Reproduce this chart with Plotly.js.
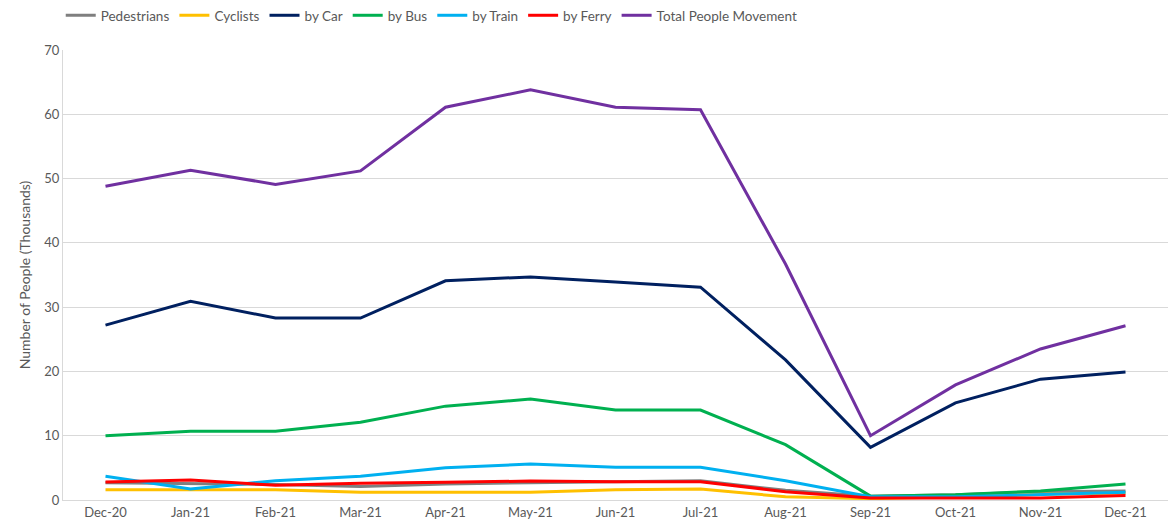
<!DOCTYPE html>
<html>
<head>
<meta charset="utf-8">
<script src="https://cdn.plot.ly/plotly-3.0.1.min.js"></script>
<style>
  html, body { margin: 0; padding: 0; background: #fff; }
  #chart { width: 1168px; height: 527px; }
</style>
</head>
<body>
<div id="chart"></div>
<script>
var months = ['Dec-20', 'Jan-21', 'Feb-21', 'Mar-21', 'Apr-21', 'May-21', 'Jun-21',
              'Jul-21', 'Aug-21', 'Sep-21', 'Oct-21', 'Nov-21', 'Dec-21'];

var pedestrians = [2.7, 2.6, 2.4, 2.1, 2.5, 2.7, 2.9, 3.0, 1.5, 0.6, 0.8, 1.3, 1.4];
var cyclists    = [1.6, 1.6, 1.6, 1.2, 1.2, 1.2, 1.6, 1.7, 0.5, 0.2, 0.5, 0.9, 1.1];
var byCar       = [27.2, 30.9, 28.3, 28.3, 34.1, 34.7, 33.9, 33.1, 21.8, 8.2, 15.1, 18.8, 19.9];
var byBus       = [10.0, 10.7, 10.7, 12.1, 14.6, 15.7, 14.0, 14.0, 8.6, 0.6, 0.8, 1.4, 2.5];
var byTrain     = [3.7, 1.7, 3.0, 3.7, 5.0, 5.6, 5.1, 5.1, 3.0, 0.5, 0.5, 0.8, 1.2];
var byFerry     = [2.8, 3.1, 2.3, 2.6, 2.75, 2.95, 2.85, 2.85, 1.3, 0.3, 0.3, 0.3, 0.7];
var total       = [48.8, 51.3, 49.1, 51.2, 61.1, 63.8, 61.1, 60.7, 36.7, 10.0, 17.9, 23.5, 27.1];

var seriesNames  = ['Pedestrians', 'Cyclists', 'by Car', 'by Bus', 'by Train', 'by Ferry', 'Total People Movement'];
var seriesValues = [pedestrians, cyclists, byCar, byBus, byTrain, byFerry, total];
var colors = ['#7f7f7f', '#ffc000', '#002060', '#00b050', '#00b0f0', '#ff0000', '#7030a0'];

var traces = seriesNames.map(function (name, i) {
    return {
        type: 'scatter',
        mode: 'lines',
        name: name,
        x: months,
        y: seriesValues[i],
        line: { color: colors[i], width: 3 }
    };
});

var layout = {
    width: 1168,
    height: 527,
    margin: { l: 63, r: 0, t: 50, b: 27 },
    paper_bgcolor: '#ffffff',
    plot_bgcolor: '#ffffff',
    font: { family: 'Lato, "Open Sans", sans-serif', size: 13, color: '#595959' },
    showlegend: true,
    legend: {
        orientation: 'h',
        xref: 'container',
        x: 0.052,
        xanchor: 'left',
        yref: 'container',
        y: 1,
        yanchor: 'top',
        itemwidth: 30,
        font: { size: 13.5, color: '#595959' }
    },
    xaxis: {
        type: 'category',
        range: [-0.5, 12.5],
        showgrid: false,
        showline: true,
        linecolor: '#d9d9d9',
        linewidth: 1,
        ticks: '',
        tickfont: { size: 13, color: '#595959' },
        fixedrange: true
    },
    yaxis: {
        range: [0, 70],
        dtick: 10,
        showgrid: true,
        gridcolor: '#d9d9d9',
        gridwidth: 1,
        zeroline: false,
        showline: true,
        linecolor: '#d9d9d9',
        ticks: '',
        tickfont: { size: 13, color: '#595959' },
        title: {
            text: 'Number of People (Thousands)',
            font: { size: 14, color: '#595959' },
            standoff: 10
        },
        fixedrange: true
    }
};

Plotly.newPlot('chart', traces, layout, { displayModeBar: false, staticPlot: true });
</script>
</body>
</html>
